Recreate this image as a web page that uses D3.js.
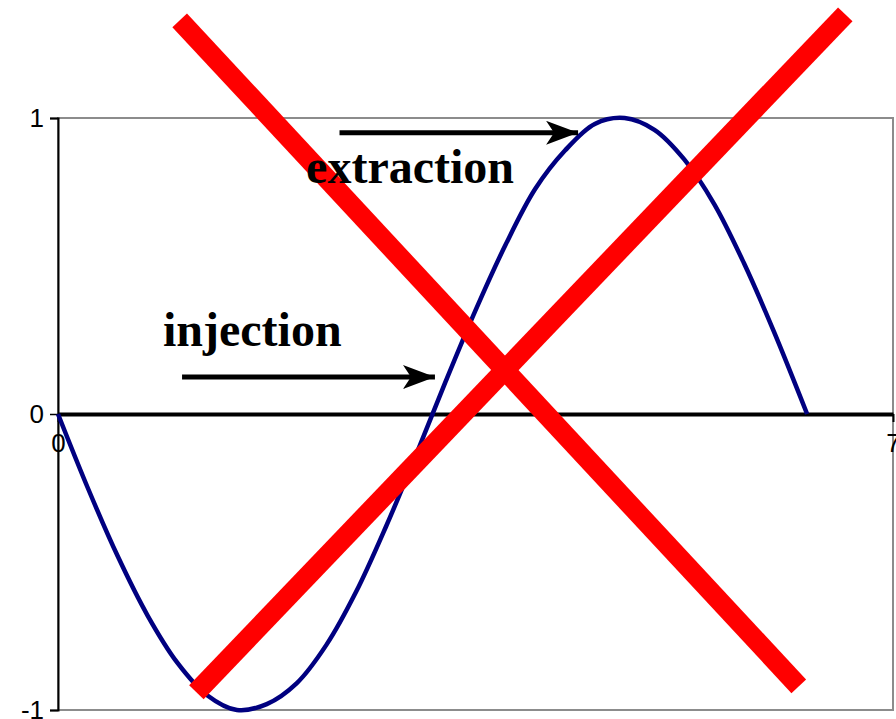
<!DOCTYPE html>
<html>
<head>
<meta charset="utf-8">
<script src="https://cdn.jsdelivr.net/npm/d3@7"></script>
<style>
  body { margin: 0; background: #fff; }
  svg { display: block; }
</style>
</head>
<body>
<svg width="896" height="719"></svg>
<script>
// blue curve
var curveX = [0, 0.25, 0.5, 0.75, 1.0, 1.25, 1.5, 1.75, 2.0, 2.25, 2.5, 2.75, 3.0, 3.25,
  3.5, 3.75, 4.0, 4.25, 4.5, 4.75, 5.0, 5.25, 5.5, 5.75, 6.0, 6.28];
var curveY = [0, -0.25, -0.48, -0.68, -0.84, -0.95, -1.0, -0.98, -0.91, -0.78, -0.60, -0.38, -0.14, 0.11,
  0.35, 0.57, 0.76, 0.89, 0.98, 1.0, 0.96, 0.86, 0.71, 0.51, 0.28, 0.0];

var xTicks = [0, 7];
var yTicks = [-1, 0, 1];

// annotations (data units)
var arrowLabels = ["extraction", "injection"];
var arrowFrom = [[2.36, 0.95], [1.04, 0.125]];
var arrowTo = [[4.36, 0.95], [3.16, 0.125]];
var labelPos = [[2.08, 0.78], [0.88, 0.23]];

// big red cross
var crossA = [[1.02, 1.33], [6.21, -0.92]];
var crossB = [[1.16, -0.94], [6.60, 1.35]];

var plotL = 58, plotR = 893, plotT = 118, plotB = 710;

var x = d3.scaleLinear().domain([0, 7]).range([plotL, plotR]);
var y = d3.scaleLinear().domain([-1, 1]).range([plotB, plotT]);

var svg = d3.select("svg");

svg.append("defs").append("marker")
  .attr("id", "head")
  .attr("markerUnits", "userSpaceOnUse")
  .attr("markerWidth", 40).attr("markerHeight", 30)
  .attr("refX", 32).attr("refY", 12)
  .attr("orient", "auto")
  .append("path")
  .attr("d", "M32,12 L0,0 L8,12 L0,24 Z")
  .attr("fill", "black");

// partial title cut off at the top
svg.append("text")
  .attr("x", 48).attr("y", -8)
  .attr("font-family", "Liberation Sans, Arial, sans-serif")
  .attr("font-size", 40)
  .text("gy");

// plot frame
svg.append("rect")
  .attr("x", plotL).attr("y", plotT)
  .attr("width", plotR - plotL).attr("height", plotB - plotT)
  .attr("fill", "none")
  .attr("stroke", "#8c8c8c")
  .attr("stroke-width", 2);

// y axis
var yAxis = d3.axisLeft(y).tickValues(yTicks).tickSize(8).tickFormat(d3.format("d"));
var gy = svg.append("g")
  .attr("transform", `translate(${plotL}, 0)`)
  .call(yAxis);
gy.select(".domain").attr("stroke", "black").attr("stroke-width", 2);
gy.selectAll(".tick line").attr("stroke", "black").attr("stroke-width", 1.5);
gy.selectAll(".tick text")
  .attr("font-family", "Liberation Sans, Arial, sans-serif")
  .attr("font-size", 26)
  .attr("fill", "black")
  .attr("x", -14)
  .text(d => d < 0 ? "-" + Math.abs(d) : d);

// x axis along zero
var xAxis = d3.axisBottom(x).tickValues(xTicks).tickSize(8).tickSizeOuter(0)
  .tickFormat(d3.format("d"));
var gx = svg.append("g")
  .attr("transform", `translate(0, ${y(0)})`)
  .call(xAxis);
gx.select(".domain").attr("stroke", "black").attr("stroke-width", 4);
gx.selectAll(".tick line").attr("stroke", "black").attr("stroke-width", 2);
gx.selectAll(".tick text")
  .attr("font-family", "Liberation Sans, Arial, sans-serif")
  .attr("font-size", 26)
  .attr("fill", "black")
  .attr("y", 20);

// blue curve
var pts = curveX.map((d, i) => [d, curveY[i]]);
var line = d3.line()
  .x(d => x(d[0]))
  .y(d => y(d[1]))
  .curve(d3.curveCatmullRom);

svg.append("path")
  .attr("d", line(pts))
  .attr("fill", "none")
  .attr("stroke", "#000080")
  .attr("stroke-width", 4.5);

// arrows
arrowLabels.forEach((lab, i) => {
  svg.append("line")
    .attr("x1", x(arrowFrom[i][0])).attr("y1", y(arrowFrom[i][1]))
    .attr("x2", x(arrowTo[i][0])).attr("y2", y(arrowTo[i][1]))
    .attr("stroke", "black")
    .attr("stroke-width", 5)
    .attr("marker-end", "url(#head)");
});

// red cross
[crossA, crossB].forEach(c => {
  svg.append("line")
    .attr("x1", x(c[0][0])).attr("y1", y(c[0][1]))
    .attr("x2", x(c[1][0])).attr("y2", y(c[1][1]))
    .attr("stroke", "#ff0000")
    .attr("stroke-width", 20);
});

// labels sit above the cross
arrowLabels.forEach((lab, i) => {
  svg.append("text")
    .attr("x", x(labelPos[i][0])).attr("y", y(labelPos[i][1]))
    .attr("font-family", "Liberation Serif, Times New Roman, serif")
    .attr("font-weight", "bold")
    .attr("font-size", 48)
    .text(lab);
});
</script>
</body>
</html>
